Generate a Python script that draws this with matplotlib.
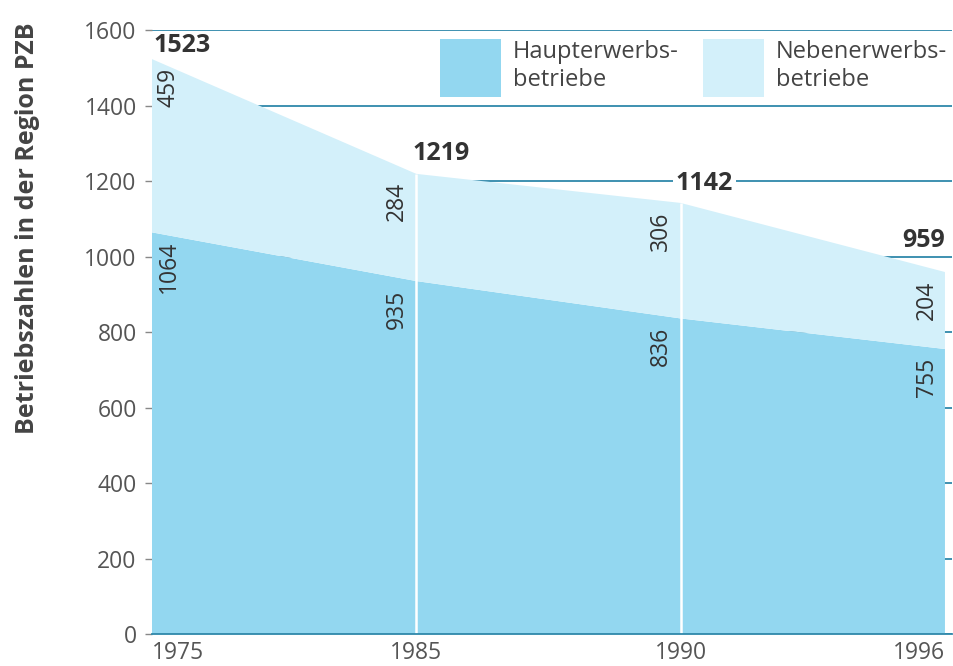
import matplotlib.pyplot as plt
import numpy as np

years = ["1975", "1985", "1990", "1996"]
haupt = [1064, 935, 836, 755]
neben = [459, 284, 306, 204]
totals = [1523, 1219, 1142, 959]

plt.rcParams['font.family'] = ['Open Sans', 'DejaVu Sans']

c_haupt = '#93d7f0'
c_neben = '#d3f0fa'
c_grid = '#2f88aa'
c_text = '#333333'

x = np.arange(len(years))

fig = plt.figure(figsize=(9.54, 6.66), dpi=100)
ax = fig.add_axes([0.1593, 0.048, 0.8387, 0.9069])

ax.stackplot(x, haupt, neben, colors=[c_haupt, c_neben], zorder=2,
             labels=['Haupterwerbs-\nbetriebe', 'Nebenerwerbs-\nbetriebe'])
ax.vlines(x[1:3], 0, np.array(totals[1:3]), colors='white', lw=1.8, zorder=3)

ax.set_xlim(0, 3.027)
ax.set_ylim(0, 1600)
ax.set_yticks(range(0, 1601, 200))
ax.yaxis.grid(True, color=c_grid, lw=1.3, zorder=1)
ax.set_axisbelow(True)
for s in ['left', 'right', 'top']:
    ax.spines[s].set_visible(False)
ax.spines['bottom'].set_color(c_grid)
ax.spines['bottom'].set_linewidth(1.3)
ax.spines['bottom'].set_zorder(4)
ax.tick_params(axis='y', length=5, width=1, color='#888888', labelsize=16.5,
               labelcolor='#555555', pad=6)
ax.tick_params(axis='x', length=0, labelsize=16.5, labelcolor='#555555', pad=5)
ax.set_xticks(x)
ax.set_xticklabels(years)
labs = ax.get_xticklabels()
labs[0].set_ha('left')
labs[-1].set_ha('right')

ax.set_ylabel('Betriebszahlen in der Region PZB', fontsize=18,
              fontweight='bold', color='#444444', loc='top')
ax.yaxis.set_label_coords(-0.14, 1.012)

# rotated segment values
dx = [12, -14, -14, -13]
for i in range(len(years)):
    ax.annotate(str(neben[i]), (x[i], totals[i]), xytext=(dx[i], -6),
                textcoords='offset points', rotation=90, ha='center', va='top',
                fontsize=16.5, color=c_text, zorder=5)
    ax.annotate(str(haupt[i]), (x[i], haupt[i]), xytext=(dx[i], -6),
                textcoords='offset points', rotation=90, ha='center', va='top',
                fontsize=16.5, color=c_text, zorder=5)

# totals
tot_off = [(1, 1), (-3, 6), (17, 5), (0, 14)]
tot_ha = ['left', 'left', 'center', 'right']
for i in range(len(years)):
    t = ax.annotate(str(totals[i]), (x[i], totals[i]), xytext=tot_off[i],
                    textcoords='offset points', ha=tot_ha[i], va='bottom',
                    fontsize=18, fontweight='bold', color=c_text, zorder=5)
    if i == 2:
        t.set_bbox(dict(facecolor='white', edgecolor='none', pad=2))

ax.legend(loc='center left', bbox_to_anchor=(0.36, 0.937), ncol=2,
          frameon=False, fontsize=17, handlelength=2.6, handleheight=3.4,
          handletextpad=0.5, columnspacing=1.0, labelcolor='#444444',
          borderaxespad=0, borderpad=0, labelspacing=0)

fig.savefig('out.png', dpi=100)
